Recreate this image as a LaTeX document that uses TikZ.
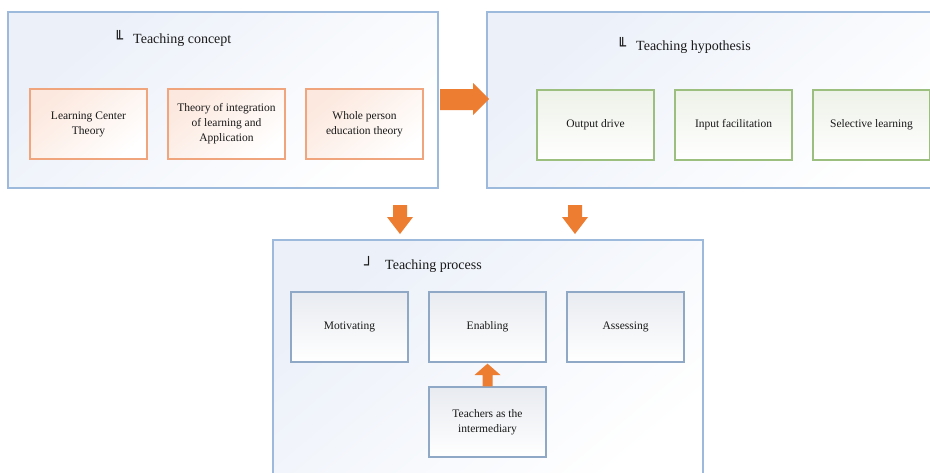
\documentclass[tikz,border=0pt]{standalone}
\usepackage{fontspec}
\setmainfont{Liberation Serif}
\newfontfamily\symfont{DejaVu Sans}
\begin{document}
\begin{tikzpicture}[x=1pt,y=-1pt,
  outerbox/.style={draw=blueB, line width=1.3pt, top color=blueF, bottom color=white, shading angle=40},
  conceptbox/.style={draw=orangeB, line width=1.3pt, top color=orangeF, bottom color=white, shading angle=40,
     minimum width=117pt, minimum height=70pt, align=center, font=\fontsize{11.5}{15}\selectfont, text=black!90, inner sep=0pt},
  hypbox/.style={conceptbox, draw=greenB, top color=greenF},
  procbox/.style={conceptbox, draw=grayB, top color=grayF},
  titletext/.style={anchor=west, font=\fontsize{14}{16}\selectfont, text=black!90, inner sep=0pt},
  titleicon/.style={anchor=west, font=\symfont\fontsize{15}{16}\selectfont, text=black!90, inner sep=0pt},
  blockarrow/.style={fill=arrowO, draw=none}
]
\definecolor{blueB}{HTML}{9DB9DC}
\definecolor{blueF}{HTML}{EBF0F9}
\definecolor{orangeB}{HTML}{F0A57C}
\definecolor{orangeF}{HTML}{FCE8DE}
\definecolor{greenB}{HTML}{9CBE7E}
\definecolor{greenF}{HTML}{EDF2E8}
\definecolor{grayB}{HTML}{8EA8C5}
\definecolor{grayF}{HTML}{E8EBF0}
\definecolor{arrowO}{HTML}{ED7D31}
\useasboundingbox (0,0) rectangle (930,472);
\clip (0,0) rectangle (930,472);
\fill[white] (0,0) rectangle (930,472);

% outer boxes
\path[outerbox] (8,12) rectangle (438,188);
\path[outerbox] (487,12) rectangle (945,188);
\path[outerbox] (273,240) rectangle (703,485);

% titles
\node[titleicon] (i1) at (114,37) {╙};
\node[titletext] (t1) at (133,40) {Teaching concept};
\node[titleicon] (i2) at (617,44) {╙};
\node[titletext] (t2) at (636,47) {Teaching hypothesis};
\node[titleicon] (i3) at (364,263) {┘};
\node[titletext] (t3) at (385,266) {Teaching process};

% concept boxes
\node[conceptbox] (a1) at (88.5,124) {Learning Center\\Theory};
\node[conceptbox] (a2) at (226.5,124) {Theory of integration\\of learning and\\Application};
\node[conceptbox] (a3) at (364.5,124) {Whole person\\education theory};

% hypothesis boxes
\node[hypbox] (b1) at (595.5,125) {Output drive};
\node[hypbox] (b2) at (733.5,125) {Input facilitation};
\node[hypbox] (b3) at (871.5,125) {Selective learning};

% process boxes
\node[procbox] (p1) at (349.5,327) {Motivating};
\node[procbox] (p2) at (487.5,327) {Enabling};
\node[procbox] (p3) at (625.5,327) {Assessing};
\node[procbox] (p4) at (487.5,422) {Teachers as the\\intermediary};

% block arrows
\fill[blockarrow] (440,89) -- (473,89) -- (473,83) -- (489,99) -- (473,115) -- (473,110) -- (440,110) -- cycle;
\fill[blockarrow] (393,205) -- (407,205) -- (407,217) -- (413,217) -- (400,234) -- (387,217) -- (393,217) -- cycle;
\fill[blockarrow] (568,205) -- (582,205) -- (582,217) -- (588,217) -- (575,234) -- (562,217) -- (568,217) -- cycle;
\fill[blockarrow] ([xshift=-5pt]p4.north) -- ([xshift=-5pt]p4.north |- 0,375) -- ([xshift=-13pt]p4.north |- 0,375) -- ([yshift=-1pt]p2.south) -- ([xshift=13pt]p4.north |- 0,375) -- ([xshift=5pt]p4.north |- 0,375) -- ([xshift=5pt]p4.north) -- cycle;
\end{tikzpicture}
\end{document}
